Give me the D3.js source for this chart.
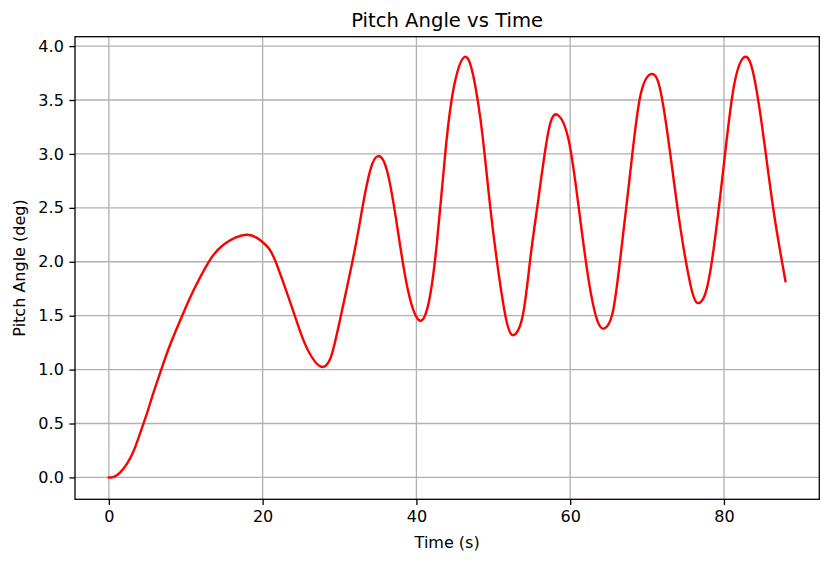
<!DOCTYPE html>
<html>
<head>
<meta charset="utf-8">
<script src="https://cdn.jsdelivr.net/npm/d3@7"></script>
<style>
  body { margin: 0; background: #fff; }
  text { font-family: "DejaVu Sans", sans-serif; fill: #000; }
</style>
</head>
<body>
<svg id="chart" width="830" height="565"></svg>
<script>
// time (s) and pitch (deg)
var timeVals = [0, 0.65, 1.52, 2.39, 3.25, 4.12, 4.99, 5.64, 6.72, 8.02, 9.54, 11.05,
                13.0, 14.95, 17.8, 19.7, 20.8, 21.7, 22.8, 23.85, 24.9, 26.0, 27.5, 28.8,
                30.0, 31.9, 33.0, 34.0, 35.0, 36.2, 37.5, 38.8, 40.3, 41.6, 42.7, 43.8,
                44.9, 46.3, 47.5, 48.6, 49.6, 50.7, 51.6, 52.5, 53.8, 54.8, 55.9, 57.2,
                58.4, 59.8, 61.1, 62.4, 63.5, 64.4, 65.5, 66.5, 67.8, 69.1, 70.5, 71.7,
                73.0, 74.3, 75.6, 76.5, 77.6, 78.7, 80.0, 81.3, 82.7, 83.9, 85.2, 86.5, 88.0];
var pitchVals = [0, 0.005, 0.05, 0.13, 0.25, 0.42, 0.60, 0.75, 0.98, 1.24, 1.50, 1.74,
                 2.00, 2.16, 2.25, 2.20, 2.125, 2.00, 1.785, 1.57, 1.35, 1.165, 1.03, 1.10,
                 1.44, 2.08, 2.51, 2.85, 2.98, 2.84, 2.33, 1.77, 1.46, 1.62, 2.20, 3.04,
                 3.63, 3.90, 3.69, 3.17, 2.51, 1.89, 1.49, 1.32, 1.49, 2.02, 2.60, 3.22,
                 3.36, 3.13, 2.51, 1.83, 1.46, 1.38, 1.52, 2.02, 2.82, 3.53, 3.74, 3.60,
                 3.01, 2.33, 1.80, 1.62, 1.71, 2.14, 2.91, 3.63, 3.90, 3.72, 3.13, 2.45, 1.82];
var xTicks = [0, 20, 40, 60, 80];
var yTicks = [0, 0.5, 1.0, 1.5, 2.0, 2.5, 3.0, 3.5, 4.0];

var svg = d3.select("#chart");
var plotL = 75, plotR = 819.3, plotT = 36.7, plotB = 499.3;

// matplotlib style 5% margins
var xMax = d3.max(timeVals), yMax = d3.max(pitchVals);
var x = d3.scaleLinear().domain([-0.05 * xMax, xMax * 1.05]).range([plotL, plotR]);
var y = d3.scaleLinear().domain([-0.052 * yMax, yMax * 1.048]).range([plotB, plotT]);

// grid
svg.append("g").selectAll("line").data(xTicks).enter().append("line")
   .attr("x1", function(d) { return x(d); }).attr("x2", function(d) { return x(d); })
   .attr("y1", plotT).attr("y2", plotB)
   .attr("stroke", "#b0b0b0").attr("stroke-width", 1.3);
svg.append("g").selectAll("line").data(yTicks).enter().append("line")
   .attr("y1", function(d) { return y(d); }).attr("y2", function(d) { return y(d); })
   .attr("x1", plotL).attr("x2", plotR)
   .attr("stroke", "#b0b0b0").attr("stroke-width", 1.3);

// curve
var pts = timeVals.map(function(t, i) { return [t, pitchVals[i]]; });
var line = d3.line()
    .x(function(d) { return x(d[0]); })
    .y(function(d) { return y(d[1]); })
    .curve(d3.curveNatural);
svg.append("path").datum(pts)
   .attr("d", line)
   .attr("fill", "none").attr("stroke", "#ff0000").attr("stroke-width", 2.4)
   .attr("stroke-linejoin", "round").attr("stroke-linecap", "square");

// axes
var xAxis = svg.append("g").attr("transform", "translate(0," + plotB + ")")
   .call(d3.axisBottom(x).tickValues(xTicks).tickFormat(d3.format("d")).tickSize(5.6).tickPadding(5.6));
var yAxis = svg.append("g").attr("transform", "translate(" + plotL + ",0)")
   .call(d3.axisLeft(y).tickValues(yTicks).tickFormat(d3.format(".1f")).tickSize(5.6).tickPadding(5.6));
[xAxis, yAxis].forEach(function(a) {
    a.select(".domain").remove();
    a.selectAll(".tick line").attr("stroke", "#000").attr("stroke-width", 1.3);
    a.selectAll(".tick text").attr("font-size", 16).attr("font-family", "DejaVu Sans").attr("fill", "#000");
});

// frame
svg.append("rect").attr("x", plotL).attr("y", plotT)
   .attr("width", plotR - plotL).attr("height", plotB - plotT)
   .attr("fill", "none").attr("stroke", "#000").attr("stroke-width", 1.3);

// labels
svg.append("text").attr("x", (plotL + plotR) / 2).attr("y", 26.5)
   .attr("text-anchor", "middle").attr("font-size", 19.6).text("Pitch Angle vs Time");
svg.append("text").attr("x", (plotL + plotR) / 2).attr("y", 548)
   .attr("text-anchor", "middle").attr("font-size", 16).text("Time (s)");
svg.append("text").attr("transform", "translate(25," + ((plotT + plotB) / 2) + ") rotate(-90)")
   .attr("text-anchor", "middle").attr("font-size", 16).text("Pitch Angle (deg)");
</script>
</body>
</html>
